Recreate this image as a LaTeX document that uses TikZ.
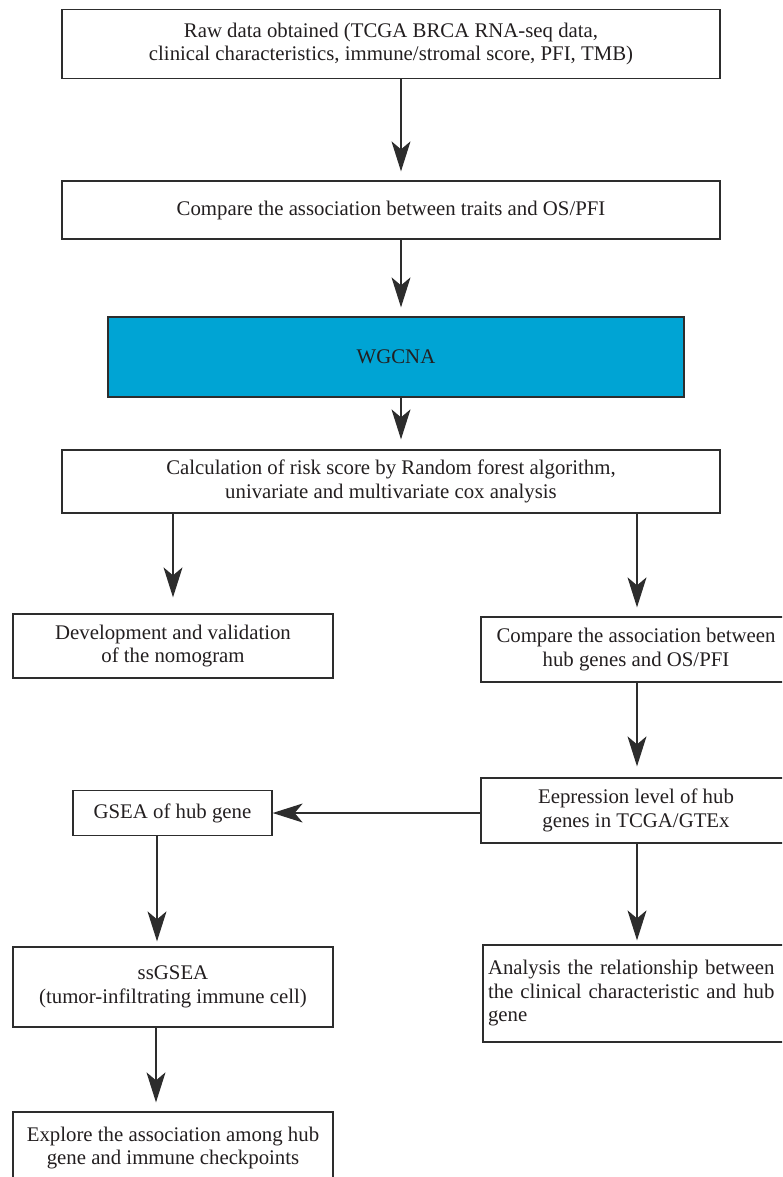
\documentclass[tikz,border=0pt]{standalone}
\usepackage{fontspec}
\setmainfont{Liberation Serif}
\usetikzlibrary{arrows.meta}
\definecolor{wblue}{RGB}{0,164,212}
\definecolor{ln}{RGB}{45,45,45}
\definecolor{tx}{RGB}{35,31,32}
\begin{document}
\begin{tikzpicture}[x=1pt,y=-1pt,
 box/.style={draw=ln, line width=1.3pt, fill=white, inner sep=0pt, align=center, text=tx, font=\fontsize{20.8}{23.5}\selectfont},
 arr/.style={draw=ln, line width=1.3pt, -{Stealth[length=30pt,width=19pt,inset=8pt]}}]
\useasboundingbox (0,0) rectangle (782,1177);
\clip (0,0) rectangle (782,1177);
\fill[white] (0,0) rectangle (782,1177);

\node[box, minimum width=658pt, minimum height=69pt] (b1) at (391,44) {Raw data obtained (TCGA BRCA RNA-seq data,\\clinical characteristics, immune/stromal score, PFI, TMB)};
\node[box, minimum width=658pt, minimum height=58pt] (b2) at (391,210) {Compare the association between traits and OS/PFI};
\node[box, fill=wblue, minimum width=576pt, minimum height=80pt] (wg) at (396,357) {WGCNA};
\node[box, minimum width=658pt, minimum height=63pt] (b4) at (391,481.5) {Calculation of risk score by Random forest algorithm,\\univariate and multivariate cox analysis};
\node[box, minimum width=320pt, minimum height=64pt] (dev) at (173,646) {Development and validation\\of the nomogram};
\node[box, minimum width=310pt, minimum height=65pt] (hub) at (636,649.5) {Compare the association between\\hub genes and OS/PFI};
\node[box, minimum width=310pt, minimum height=65pt] (eep) at (636,810.5) {Eepression level of hub\\genes in TCGA/GTEx};
\node[box, minimum width=199pt, minimum height=45pt] (gsea) at (172.5,813) {GSEA of hub gene};
\node[box, minimum width=320pt, minimum height=80pt] (ss) at (173,987) {ssGSEA\\(tumor-infiltrating immune cell)};
\node[box, align=left, text width=298pt, inner xsep=5pt, minimum height=97pt] (ana) at (637,993.5) {Analysis the relationship between\\the clinical characteristic and hub\\gene};
\node[box, minimum width=320pt, minimum height=72pt] (exp) at (173,1148) {Explore the association among hub\\gene and immune checkpoints};

\coordinate (xa) at (401,0);
\coordinate (xl) at (173,0);
\coordinate (xr) at (637,0);
\coordinate (xg) at (157,0);
\coordinate (xs) at (156,0);

\draw[arr, shorten >=9pt] (b1.south -| xa) -- (b2.north -| xa);
\draw[arr, shorten >=9pt] (b2.south -| xa) -- (wg.north -| xa);
\draw[arr, shorten >=10pt] (wg.south -| xa) -- (b4.north -| xa);
\draw[arr, shorten >=16pt] (b4.south -| xl) -- (dev.north -| xl);
\draw[arr, shorten >=9pt] (b4.south -| xr) -- (hub.north -| xr);
\draw[arr, shorten >=11pt] (hub.south -| xr) -- (eep.north -| xr);
\draw[arr] (eep.west |- gsea.east) -- (gsea.east);
\draw[arr, shorten >=5pt] (gsea.south -| xg) -- (ss.north -| xg);
\draw[arr, shorten >=4pt] (eep.south -| xr) -- (ana.north -| xr);
\draw[arr, shorten >=9pt] (ss.south -| xs) -- (exp.north -| xs);
\end{tikzpicture}
\end{document}
